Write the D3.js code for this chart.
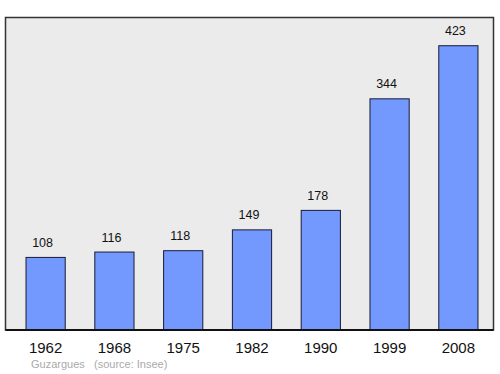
<!DOCTYPE html>
<html>
<head>
<meta charset="utf-8">
<script src="https://cdn.jsdelivr.net/npm/d3@7"></script>
<style>
  body { margin: 0; background: #fff; }
  svg { display: block; font-family: "Liberation Sans", Arial, sans-serif; }
</style>
</head>
<body>
<div class="chart"></div>
<script>
// data
const years = ["1962", "1968", "1975", "1982", "1990", "1999", "2008"];
const population = [108, 116, 118, 149, 178, 344, 423];
const commune = "Guzargues";
const source = "(source: Insee)";

const width = 500, height = 374;
const box = { left: 5.5, top: 17.5, right: 493.5, bottom: 330 };

let svg = d3
  .select(".chart")
  .append("svg")
  .attr("width", width)
  .attr("height", height);

// background panel
svg
  .append("rect")
  .attr("x", box.left)
  .attr("y", box.top)
  .attr("width", box.right - box.left)
  .attr("height", box.bottom - box.top)
  .attr("fill", "#ebebeb")
  .attr("stroke", "#333")
  .attr("stroke-width", 1.5);

// x: band scale with centers 68.5 apart
let x = d3
  .scaleBand()
  .domain(years)
  .range([12.25, 491.75])
  .paddingInner(0.43)
  .paddingOuter(0.2);

let y = d3.scaleLinear().domain([0, 465]).range([box.bottom, box.top]);

let bars = svg.append("g").attr("class", "bars");

bars
  .selectAll("rect")
  .data(population)
  .enter()
  .append("rect")
  .attr("x", (d, i) => x(years[i]))
  .attr("y", (d) => y(d))
  .attr("width", x.bandwidth())
  .attr("height", (d) => y(0) - y(d))
  .attr("fill", "#7399ff")
  .attr("stroke", "#1a1a33")
  .attr("stroke-width", 1);

// value labels (sit a little left of bar centre, like the original)
svg
  .append("g")
  .selectAll("text")
  .data(population)
  .enter()
  .append("text")
  .attr("x", (d, i) => x(years[i]) + x.bandwidth() / 2 - 3)
  .attr("y", (d) => y(d) - 10.5)
  .attr("text-anchor", "middle")
  .attr("font-size", 12.5)
  .attr("fill", "#111")
  .text((d) => d);

// bottom axis line
svg
  .append("line")
  .attr("x1", box.left)
  .attr("x2", box.right)
  .attr("y1", box.bottom)
  .attr("y2", box.bottom)
  .attr("stroke", "#111")
  .attr("stroke-width", 2);

// year labels
svg
  .append("g")
  .selectAll("text")
  .data(years)
  .enter()
  .append("text")
  .attr("x", (d) => x(d) + x.bandwidth() / 2)
  .attr("y", 353)
  .attr("text-anchor", "middle")
  .attr("font-size", 15)
  .attr("fill", "#111")
  .text((d) => d);

// footer
svg
  .append("text")
  .attr("x", 31)
  .attr("y", 367.5)
  .attr("font-size", 11)
  .attr("fill", "#aaa")
  .text(commune);
svg
  .append("text")
  .attr("x", 94)
  .attr("y", 367.5)
  .attr("font-size", 11)
  .attr("fill", "#aaa")
  .text(source);
</script>
</body>
</html>
